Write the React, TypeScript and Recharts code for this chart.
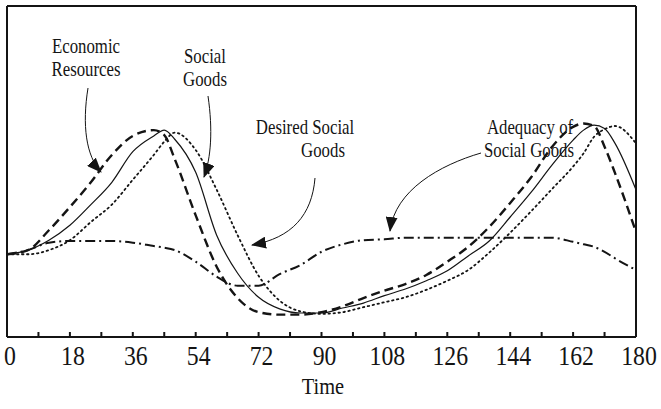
import { LineChart, Line, XAxis, YAxis } from 'recharts';

// time axis (step 6, with a few extra points near the peaks)
const time = [
  0, 6, 12, 18, 24, 30, 36, 42, 45, 48, 54, 60, 66, 72, 78, 84, 90,
  96, 102, 108, 114, 120, 126, 132, 138, 144, 150, 156, 162, 165, 168, 171, 174, 180,
];

const economicResources = [
  1.0, 1.05, 1.29, 1.57, 1.87, 2.2, 2.43, 2.5, 2.44, 2.15, 1.47, 0.85, 0.47, 0.3, 0.27, 0.27, 0.3,
  0.37, 0.47, 0.56, 0.64, 0.75, 0.91, 1.09, 1.33, 1.62, 1.93, 2.3, 2.54, 2.58, 2.55, 2.3, 1.98, 1.27,
];

const socialGoods = [
  1.0, 1.05, 1.17, 1.35, 1.6, 1.87, 2.24, 2.43, 2.5, 2.39, 1.99, 1.23, 0.77, 0.48, 0.34, 0.29, 0.29,
  0.35, 0.41, 0.5, 0.58, 0.68, 0.8, 0.98, 1.16, 1.45, 1.75, 2.08, 2.38, 2.5, 2.56, 2.52, 2.34, 1.78,
];

const desiredSocialGoods = [
  1.0, 1.0, 1.05, 1.17, 1.39, 1.6, 1.9, 2.2, 2.36, 2.47, 2.26, 1.78, 1.23, 0.74, 0.44, 0.31, 0.28,
  0.3, 0.36, 0.42, 0.48, 0.57, 0.68, 0.81, 1.02, 1.26, 1.52, 1.79, 2.06, 2.22, 2.42, 2.51, 2.55, 2.34,
];

const adequacyOfSocialGoods = [
  1.0, 1.05, 1.14, 1.16, 1.16, 1.16, 1.14, 1.1, 1.08, 1.05, 0.91, 0.73, 0.62, 0.62, 0.76, 0.87, 1.03,
  1.12, 1.17, 1.18, 1.2, 1.2, 1.2, 1.2, 1.2, 1.2, 1.2, 1.2, 1.15, 1.12, 1.09, 1.03, 0.95, 0.81,
];

const timeTicks = [0, 9, 18, 27, 36, 45, 54, 63, 72, 81, 90, 99, 108, 117, 126, 135, 144, 153, 162, 171, 180];
const yTicks = [0, 1, 2, 3, 4];

const data = time.map((t, i) => ({
  t,
  econ: economicResources[i],
  social: socialGoods[i],
  desired: desiredSocialGoods[i],
  adequacy: adequacyOfSocialGoods[i],
}));

const W = 661;
const H = 409;
const FONT = "'Liberation Serif', 'Times New Roman', serif";
const INK = '#141414';

const TimeTick = (props: any) => {
  const { x, y, payload } = props;
  if (payload.value % 18 !== 0) return <g />;
  return (
    <text
      transform={`translate(${x + 3},${y}) scale(0.88,1)`}
      textAnchor="middle"
      dy="0.68em"
      fontSize={27}
      fontFamily={FONT}
      fill={INK}
    >
      {payload.value}
    </text>
  );
};

const Note = ({ x, y, text }: { x: number; y: number; text: string }) => (
  <text
    transform={`translate(${x},${y}) scale(0.84,1)`}
    textAnchor="middle"
    fontSize={20}
    fontFamily={FONT}
    fill={INK}
  >
    {text}
  </text>
);

// annotation labels and arrows (overlay, pixel layout)
const notes = [
  { x: 86, y: 53, text: 'Economic' },
  { x: 86, y: 76, text: 'Resources' },
  { x: 205, y: 63, text: 'Social' },
  { x: 205, y: 86, text: 'Goods' },
  { x: 305, y: 134, text: 'Desired Social' },
  { x: 323, y: 157, text: 'Goods' },
  { x: 530, y: 134, text: 'Adequacy of' },
  { x: 529, y: 157, text: 'Social Goods' },
];

const arrows = [
  'M 88 88 C 82 125, 86 156, 101 172',
  'M 208 96 C 213 130, 211 158, 204 177',
  'M 315 178 C 312 215, 292 238, 252 245',
  'M 481 153 C 440 165, 395 190, 390 231',
];

const axisProps = {
  tickSize: -5,
  tick: false,
  stroke: INK,
  strokeWidth: 2,
};

export default function App() {
  return (
    <div style={{ position: 'absolute', left: 0, top: 0, width: W, height: H, background: '#fff' }}>
      <LineChart width={W} height={H} data={data} margin={{ top: 5, right: 24, left: 6, bottom: 0 }}>
        <XAxis
          dataKey="t"
          type="number"
          domain={[0, 180]}
          ticks={timeTicks}
          interval={0}
          height={72}
          tickSize={-5}
          tickMargin={15}
          tick={<TimeTick />}
          stroke={INK}
          strokeWidth={2}
        />
        <XAxis
          xAxisId="top"
          dataKey="t"
          type="number"
          orientation="top"
          domain={[0, 180]}
          ticks={timeTicks}
          interval={0}
          height={1}
          {...axisProps}
        />
        <YAxis domain={[0, 4]} ticks={yTicks} width={1} {...axisProps} />
        <YAxis yAxisId="right" orientation="right" domain={[0, 4]} ticks={yTicks} width={1} {...axisProps} />
        <Line
          type="monotone"
          dataKey="adequacy"
          stroke={INK}
          strokeWidth={2}
          strokeDasharray="10 4 2 4"
          dot={false}
          isAnimationActive={false}
        />
        <Line
          type="monotone"
          dataKey="desired"
          stroke={INK}
          strokeWidth={1.8}
          strokeDasharray="1.5 3.5"
          strokeLinecap="round"
          dot={false}
          isAnimationActive={false}
        />
        <Line
          type="monotone"
          dataKey="social"
          stroke={INK}
          strokeWidth={1.2}
          dot={false}
          isAnimationActive={false}
        />
        <Line
          type="monotone"
          dataKey="econ"
          stroke={INK}
          strokeWidth={2.4}
          strokeDasharray="9 5"
          dot={false}
          isAnimationActive={false}
        />
      </LineChart>
      <svg width={W} height={H} style={{ position: 'absolute', left: 0, top: 0, pointerEvents: 'none' }}>
        <defs>
          <marker id="head" markerUnits="userSpaceOnUse" markerWidth={16} markerHeight={12} refX={14} refY={6} orient="auto">
            <path d="M 0 0 L 15 6 L 0 12 Z" fill={INK} />
          </marker>
        </defs>
        {notes.map((n, i) => (
          <Note key={i} x={n.x} y={n.y} text={n.text} />
        ))}
        {arrows.map((d, i) => (
          <path key={i} d={d} fill="none" stroke={INK} strokeWidth={1} markerEnd="url(#head)" />
        ))}
        <text transform="translate(323,394) scale(0.85,1)" textAnchor="middle" fontSize={24} fontFamily={FONT} fill={INK}>
          Time
        </text>
      </svg>
    </div>
  );
}
